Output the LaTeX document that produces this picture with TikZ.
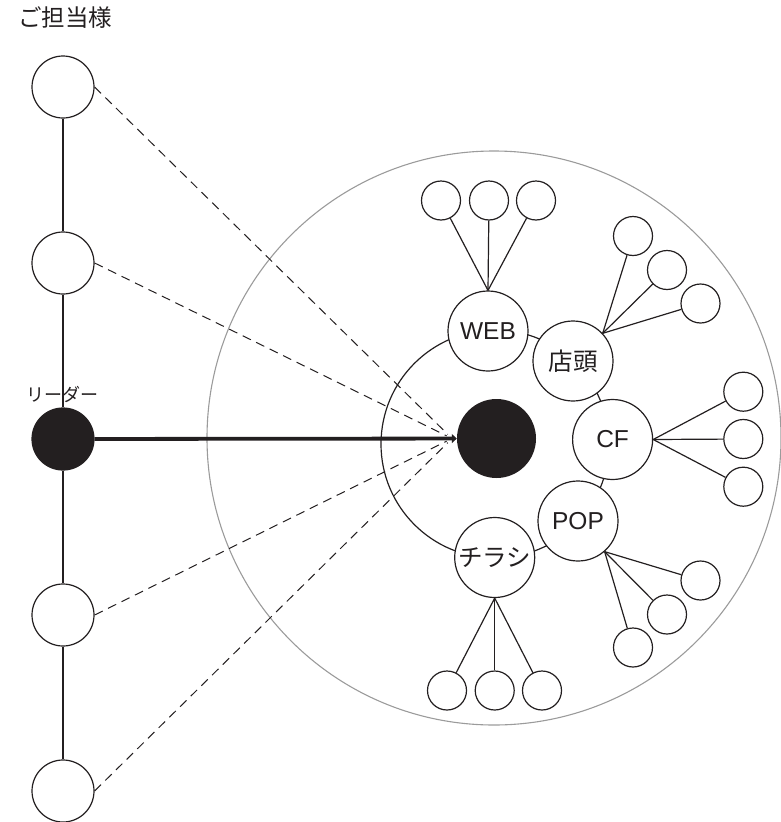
\documentclass[tikz,border=0pt]{standalone}
\usepackage{fontspec}
\newfontfamily\jpfont{Noto Sans CJK JP}
\newfontfamily\latfont{Liberation Sans}
\usetikzlibrary{arrows.meta}
\definecolor{ink}{RGB}{35,31,32}
\definecolor{rim}{RGB}{155,155,155}
\begin{document}
\begin{tikzpicture}[x=1pt,y=-1pt,
  every node/.style={text=ink},
  person/.style={circle, draw=ink, line width=1.2pt, minimum size=62pt, inner sep=0pt, fill=white},
  leader/.style={person, fill=ink},
  hubdot/.style={circle, fill=ink, minimum size=79pt, inner sep=0pt},
  media/.style={circle, draw=ink, line width=1.2pt, minimum size=80pt, inner sep=0pt, fill=white,
    font=\jpfont\fontsize{24.5}{24.5}\selectfont},
  leaf/.style={circle, draw=ink, line width=1.2pt, minimum size=39pt, inner sep=0pt, fill=white},
  link/.style={draw=ink, line width=1.2pt},
  cue/.style={draw=ink, line width=1pt, dash pattern=on 9pt off 6pt, shorten >=6pt},
  push/.style={draw=ink, line width=3.8pt, -{Triangle[length=5pt,width=9pt]}},
]
\useasboundingbox (0,0) rectangle (780,822);

% outer field and the ring joining the media
\draw[rim, line width=1.1pt] (494,438) circle[radius=287pt];
\draw[link] (495,444) circle[radius=114pt];

% team column
\node[font=\jpfont\fontsize{23.5}{23.5}\selectfont] (title) at (65,18) {ご担当様};
\node[person] (p1) at (63,87) {};
\node[person] (p2) at (63,263) {};
\node[leader] (lead) at (63,439) {};
\node[person] (p4) at (63,615) {};
\node[person] (p5) at (63,791) {};
\node[font=\jpfont\fontsize{18}{18}\selectfont] (leadlabel) at (62,394) {リーダー};

% centre and media
\node[hubdot] (core) at (496.5,438.5) {};
\node[media] (web) at (488,331) {\latfont WEB};
\node[media] (tento) at (573,361) {店頭};
\node[media] (cf) at (612.6,439.5) {\latfont CF};
\node[media] (pop) at (578,521) {\latfont POP};
\node[media] (chirashi) at (494.7,557.5) {チラシ};

% leaves
\node[leaf] (w1) at (441,200.5) {};
\node[leaf] (w2) at (489,200.5) {};
\node[leaf] (w3) at (536,200.5) {};
\node[leaf] (t1) at (633,236) {};
\node[leaf] (t2) at (667,270) {};
\node[leaf] (t3) at (700.5,303.5) {};
\node[leaf] (c1) at (743.3,391.7) {};
\node[leaf] (c2) at (743.3,439) {};
\node[leaf] (c3) at (743.3,486.7) {};
\node[leaf] (q1) at (700.5,580.5) {};
\node[leaf] (q2) at (667,614.5) {};
\node[leaf] (q3) at (633,647.5) {};
\node[leaf] (h1) at (447,690.5) {};
\node[leaf] (h2) at (494.7,690.5) {};
\node[leaf] (h3) at (542,690.5) {};

% column links
\draw[link] (p1) -- (p2);
\draw[link] (p2) -- (lead);
\draw[link] (lead) -- (p4);
\draw[link] (p4) -- (p5);

% leader to centre
\draw[push] (lead) -- (core);

% members to centre
\coordinate (meet) at (452,438.5);
\draw[cue] (p1.east) -- (meet);
\draw[cue] (p2.east) -- (meet);
\draw[cue] (p4.east) -- (meet);
\draw[cue] (p5.east) -- (meet);

% media to leaves
\foreach \l in {w1,w2,w3} \draw[link] (web.north) -- (\l);
\foreach \l in {t1,t2,t3} \draw[link] (tento.43) -- (\l);
\foreach \l in {c1,c2,c3} \draw[link] (cf.east) -- (\l);
\foreach \l in {q1,q2,q3} \draw[link] (pop.-49) -- (\l);
\foreach \l in {h1,h2,h3} \draw[link] (chirashi.south) -- (\l);
\end{tikzpicture}
\end{document}
